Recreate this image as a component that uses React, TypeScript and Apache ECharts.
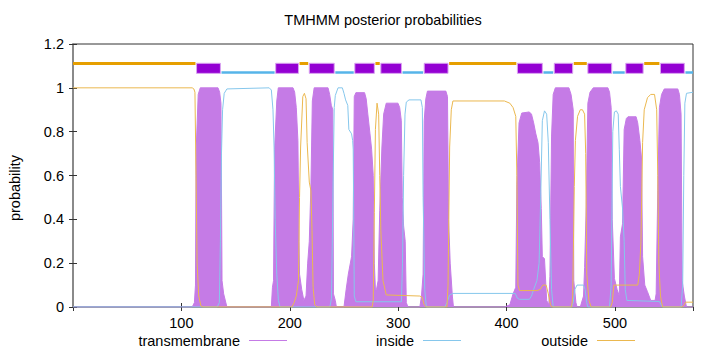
import React, { useEffect, useRef } from "react";
import * as echarts from "echarts";

// ---- data ----
const chartTitle = "TMHMM posterior probabilities";
const yLabel = "probability";
const seriesNames = ["transmembrane", "inside", "outside"];

// posterior probability curves: [residue, probability]
const transmembrane: [number, number][] = [
  [0, 0], [110, 0], [112, 0.02], [113, 0.1], [113.6, 0.71], [115.5, 0.97], [117.4, 1.0], [133.8, 1.0], [135.3, 0.98], [136.5, 0.93], [137.5, 0.12], [139, 0.06], [141, 0.02], [142, 0],
  [183, 0], [184, 0.09], [185, 0.12], [186, 0.72], [188, 0.94], [189.4, 1.0], [203, 1.0], [204.5, 0.98], [206, 0.91], [207.5, 0.76], [208.5, 0.3], [209, 0.15], [211, 0.08], [213, 0.03],
  [215, 0.05], [216.5, 0.2], [218, 0.3], [219.5, 0.55], [220.8, 0.94], [222.5, 1.0], [235.3, 1.0], [236.8, 0.97], [238.3, 0.92], [239.7, 0.9], [240.3, 0.06], [242, 0.03], [243, 0],
  [250, 0], [252, 0.08], [254, 0.15], [257, 0.23], [258.5, 0.4], [259.5, 0.96], [261, 0.978], [269, 0.978], [270.5, 0.95], [272, 0.88], [274, 0.79], [275.5, 0.72], [277, 0.6], [278, 0.2], [279, 0.08],
  [280, 0.08], [281.5, 0.12], [283, 0.44], [285, 0.73], [286.6, 0.88], [289, 0.93], [299.8, 0.93], [301.4, 0.91], [302.9, 0.85], [303.8, 0.5], [305, 0.37], [306.5, 0.3], [307.5, 0.02], [309, 0],
  [320, 0], [321.5, 0.05], [323, 0.15], [324, 0.85], [325.5, 0.95], [327, 0.985], [344, 0.985], [345.5, 0.96], [346.5, 0.4], [348, 0.2], [350, 0.05], [351, 0],
  [398, 0], [403, 0.01], [406, 0.06], [408.5, 0.09], [409.5, 0.56], [411.5, 0.84], [414, 0.885], [421, 0.89], [423, 0.88], [425, 0.84], [427, 0.79], [429, 0.75], [430.5, 0.66], [432, 0.45], [433, 0.23], [435, 0.22], [437, 0.03], [439, 0.01],
  [440, 0.14], [441.5, 0.78], [443, 0.97], [445, 1.0], [457.5, 1.0], [459.5, 0.97], [461.5, 0.9], [462, 0.12], [464, 0.02], [465, 0],
  [468, 0], [471, 0.05], [472, 0.18], [473.5, 0.46], [475, 0.93], [477, 0.98], [480, 1.0], [493.5, 1.0], [495, 0.98], [496.5, 0.91], [497.5, 0.4], [499.5, 0.13], [502, 0.08], [504, 0.05],
  [505, 0.32], [507, 0.38], [508.5, 0.81], [510.5, 0.86], [512, 0.868], [519.5, 0.868], [521, 0.84], [523, 0.76], [524.5, 0.68], [525.5, 0.23], [527.5, 0.1], [530, 0.07], [533, 0.03], [537, 0.03],
  [538, 0.06], [539.5, 0.53], [541, 0.91], [543, 0.97], [545.5, 0.995], [558, 0.995], [559.5, 0.97], [561, 0.88], [562, 0.12], [564, 0.05], [566, 0], [572, 0],
];

const inside: [number, number][] = [
  [0, 0], [133, 0], [135, 0.02], [136, 0.3], [137, 0.7], [138, 0.9], [139.5, 0.975], [142, 0.995], [181, 1.0], [183, 0.99], [184.5, 0.9], [185.5, 0.73], [186.5, 0.4], [188, 0.15], [189.5, 0.03], [191, 0],
  [237, 0], [238.5, 0.04], [240, 0.58], [241, 0.91], [242, 0.965], [244.5, 1.0], [248.5, 1.0], [250, 0.975], [251.5, 0.945], [253.5, 0.92], [254.5, 0.81], [257, 0.79], [258, 0.76], [258.5, 0.72], [259, 0.4], [259.5, 0.05], [261, 0.024],
  [303, 0.024], [304, 0.2], [305, 0.6], [306.3, 0.88], [307.5, 0.935], [310, 0.945], [321, 0.945], [322.3, 0.91], [323, 0.5], [324.5, 0.08], [326, 0],
  [343, 0], [345, 0.02], [347.5, 0.055], [350.5, 0.062], [408, 0.062], [410, 0.04], [412, 0.035], [421, 0.035], [423, 0.05], [425, 0.08], [428, 0.12], [430, 0.2], [431.5, 0.5], [433, 0.85], [435, 0.895], [437, 0.88], [438.5, 0.75], [440, 0.4], [441.5, 0.08], [443, 0],
  [460, 0], [461.5, 0.02], [463, 0.08], [465, 0.1], [471, 0.1], [472.5, 0.08], [474, 0.02], [475, 0],
  [495, 0], [496.5, 0.1], [498, 0.8], [499.5, 0.89], [501.3, 0.895], [503, 0.88], [504, 0.72], [505, 0.55], [507, 0.45], [508.5, 0.3], [509.5, 0.08], [511, 0.03], [541, 0.025], [542.5, 0.01], [544, 0],
  [561, 0], [562.5, 0.1], [563.5, 0.6], [564.5, 0.93], [566, 0.975], [572, 0.98],
];

const outside: [number, number][] = [
  [0, 1.0], [110, 1.0], [111.5, 0.995], [112.5, 0.98], [113.5, 0.6], [114.5, 0.2], [116, 0.05], [118, 0.005], [120, 0],
  [202, 0], [204, 0.02], [206, 0.05], [208, 0.12], [209, 0.5], [210, 0.73], [212, 0.96], [213.5, 0.975], [215, 0.95], [216, 0.75], [218, 0.57], [219.5, 0.53], [220.5, 0.35], [221.5, 0.09], [223, 0.01], [225, 0],
  [276, 0], [277, 0.03], [278, 0.43], [279, 0.81], [280.5, 0.93], [282, 0.88], [283, 0.6], [284, 0.35], [286, 0.12], [289, 0.055], [320, 0.05], [322, 0.045], [324, 0.01], [326, 0],
  [345, 0], [346, 0.1], [347.5, 0.73], [349, 0.9], [350.5, 0.94], [398, 0.94], [403, 0.93], [406, 0.91], [408.5, 0.87], [409.5, 0.6], [410.5, 0.1], [412, 0.075], [428, 0.075], [431, 0.08], [433.5, 0.1], [436.5, 0.1], [438.5, 0.06], [440.5, 0.01], [442, 0],
  [460, 0], [461, 0.05], [462.5, 0.55], [463.5, 0.76], [465.5, 0.87], [468, 0.9], [470, 0.9], [472, 0.88], [473, 0.7], [474, 0.15], [476, 0.03], [478, 0],
  [496, 0], [497.5, 0.02], [499, 0.1], [521, 0.1], [522.5, 0.15], [524, 0.3], [525.5, 0.75], [527, 0.9], [530, 0.955], [533, 0.97], [536.5, 0.97], [538.5, 0.9], [539.5, 0.6], [540.5, 0.2], [542, 0.05], [544, 0],
  [562, 0], [564, 0.01], [565, 0.022], [572, 0.022],
];

// predicted topology segments: [start, end] residues
const tmSegments: [number, number][] = [
  [114, 136], [187, 208], [218, 241], [260, 278], [284, 303], [324, 346],
  [410, 433], [444, 461], [475, 497], [510, 526], [542, 564],
];
const insideSegments: [number, number][] = [
  [137, 186], [242, 259], [304, 323], [434, 443], [498, 509], [565, 572],
];
const outsideSegments: [number, number][] = [
  [0, 113], [209, 217], [279, 283], [347, 409], [462, 474], [527, 541],
];

// ---- layout / style constants ----
const X_MIN = 0;
const X_MAX = 572;
const X_INTERVAL = 100;
const Y_MIN = 0;
const Y_MAX = 1.2;
const Y_INTERVAL = 0.2;
const OUT_LEVEL = 1.111;
const IN_LEVEL = 1.071;
const TM_LOW = 1.066;
const TM_HIGH = 1.112;

const FONT = "'Liberation Sans', Arial, Helvetica, sans-serif";
const FS = 14.5;
const TM_FILL = "#c57be6";
const TM_BOX = "#9400d3";
const IN_LINE = "#86c7ec";
const OUT_LINE = "#ebb84f";
const IN_BAR = "#56b4e9";
const OUT_BAR = "#e69f00";

export default function App() {
  const ref = useRef<HTMLDivElement>(null);

  useEffect(() => {
    if (!ref.current) return;
    const chart = echarts.init(ref.current, undefined, { renderer: "svg" });

    const legendCommon = {
      orient: "horizontal" as const,
      align: "right" as const,
      top: 333,
      padding: 0,
      itemWidth: 38,
      itemHeight: 1,
      icon: "rect",
      selectedMode: false,
      textStyle: { fontSize: FS, color: "#000", fontFamily: FONT, padding: [0, 4, 0, 0] },
    };

    chart.setOption({
      animation: false,
      textStyle: { fontFamily: FONT },
      title: {
        text: chartTitle,
        left: 383,
        top: 12,
        textAlign: "center",
        padding: 0,
        textStyle: { fontSize: FS, fontWeight: "normal", color: "#000", fontFamily: FONT },
      },
      legend: [
        { ...legendCommon, right: 433, data: [seriesNames[0]] },
        { ...legendCommon, right: 259, data: [seriesNames[1]] },
        { ...legendCommon, right: 85, data: [seriesNames[2]] },
      ],
      grid: {
        left: 73,
        right: 27,
        top: 44,
        bottom: 45,
        show: true,
        borderColor: "#333",
        borderWidth: 1,
        backgroundColor: "transparent",
      },
      graphic: [
        {
          type: "text",
          x: 15,
          y: 188,
          rotation: Math.PI / 2,
          style: {
            text: yLabel,
            fontSize: FS,
            fontFamily: FONT,
            fill: "#000",
            textAlign: "center",
            textVerticalAlign: "middle",
          },
        },
      ],
      xAxis: [
        {
          type: "value",
          min: X_MIN,
          max: X_MAX,
          interval: X_INTERVAL,
          position: "bottom",
          axisLine: { show: false },
          axisTick: { inside: true, length: 4, lineStyle: { color: "#333" } },
          axisLabel: {
            fontSize: FS,
            color: "#000",
            fontFamily: FONT,
            margin: 8,
            showMinLabel: false,
            showMaxLabel: false,
          },
          splitLine: { show: false },
        },
        {
          type: "value",
          min: X_MIN,
          max: X_MAX,
          interval: X_INTERVAL,
          position: "top",
          axisLine: { show: false },
          axisTick: { inside: true, length: 4, lineStyle: { color: "#333" } },
          axisLabel: { show: false },
          splitLine: { show: false },
        },
      ],
      yAxis: [
        {
          type: "value",
          min: Y_MIN,
          max: Y_MAX,
          interval: Y_INTERVAL,
          position: "left",
          axisLine: { show: false },
          axisTick: { inside: true, length: 4, lineStyle: { color: "#333" } },
          axisLabel: {
            fontSize: FS,
            color: "#000",
            fontFamily: FONT,
            margin: 9,
            formatter: (v: number) => String(Math.round(v * 10) / 10),
          },
          splitLine: { show: false },
        },
        {
          type: "value",
          min: Y_MIN,
          max: Y_MAX,
          interval: Y_INTERVAL,
          position: "right",
          axisLine: { show: true, lineStyle: { color: "#8a8a8a", width: 2 } },
          axisTick: { inside: true, length: 4, lineStyle: { color: "#333" } },
          axisLabel: { show: false },
          splitLine: { show: false },
        },
      ],
      series: [
        {
          name: seriesNames[0],
          type: "line",
          data: transmembrane,
          showSymbol: false,
          symbol: "none",
          color: TM_FILL,
          lineStyle: { color: TM_FILL, width: 1 },
          areaStyle: { color: TM_FILL, opacity: 1 },
          silent: true,
          z: 2,
          markArea: {
            silent: true,
            label: { show: false },
            itemStyle: { color: TM_BOX, borderColor: "#d9a3f0", borderWidth: 1 },
            data: tmSegments.map(([a, b]) => [
              { xAxis: a, yAxis: TM_LOW },
              { xAxis: b, yAxis: TM_HIGH },
            ]),
          },
        },
        {
          name: seriesNames[1],
          type: "line",
          data: inside,
          showSymbol: false,
          symbol: "none",
          color: IN_LINE,
          lineStyle: { color: IN_LINE, width: 1 },
          silent: true,
          z: 3,
          markLine: {
            silent: true,
            symbol: ["none", "none"],
            label: { show: false },
            lineStyle: { color: IN_BAR, width: 2.5, type: "solid" },
            data: insideSegments.map(([a, b]) => [
              { coord: [a, IN_LEVEL] },
              { coord: [b, IN_LEVEL] },
            ]),
          },
        },
        {
          name: seriesNames[2],
          type: "line",
          data: outside,
          showSymbol: false,
          symbol: "none",
          color: OUT_LINE,
          lineStyle: { color: OUT_LINE, width: 1 },
          silent: true,
          z: 4,
          markLine: {
            silent: true,
            symbol: ["none", "none"],
            label: { show: false },
            lineStyle: { color: OUT_BAR, width: 3, type: "solid" },
            data: outsideSegments.map(([a, b]) => [
              { coord: [a, OUT_LEVEL] },
              { coord: [b, OUT_LEVEL] },
            ]),
          },
        },
      ],
    });

    return () => chart.dispose();
  }, []);

  return (
    <div
      ref={ref}
      style={{ position: "absolute", left: 0, top: 0, width: 720, height: 352 }}
    />
  );
}
